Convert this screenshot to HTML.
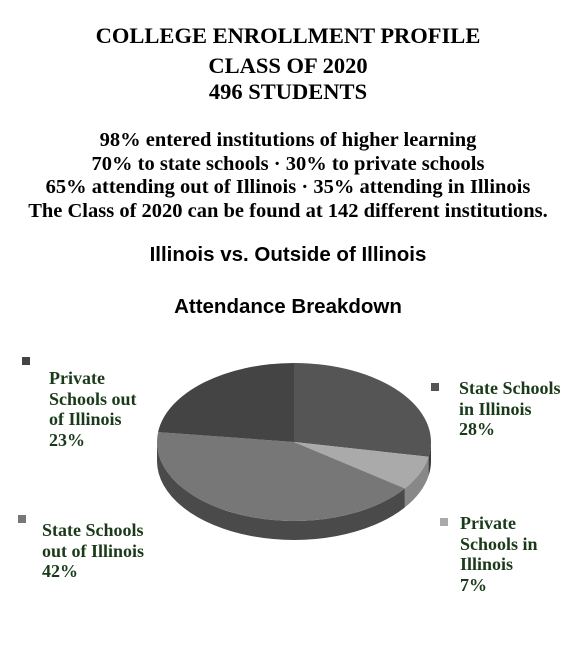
<!DOCTYPE html>
<html><head><meta charset="utf-8"><style>
body{margin:0;background:#fff;width:576px;height:645px;overflow:hidden;position:relative;font-family:"Liberation Serif",serif}
.t{position:absolute;left:0;width:576px;text-align:center;font-weight:bold;color:#000;white-space:nowrap}
.lab{position:absolute;font-family:"Liberation Serif",serif;font-weight:bold;color:#1a3a1a;font-size:18px;line-height:20.5px;white-space:nowrap}
.sw{position:absolute;width:8px;height:8px}
</style></head><body>
<div class="t" style="top:23px;font-size:22.5px">COLLEGE ENROLLMENT PROFILE</div>
<div class="t" style="top:53px;font-size:22.5px">CLASS OF 2020</div>
<div class="t" style="top:79px;font-size:22.5px">496 STUDENTS</div>
<div class="t" style="top:129px;font-size:20.5px;line-height:23.5px">98% entered institutions of higher learning<br>70% to state schools · 30% to private schools<br>65% attending out of Illinois · 35% attending in Illinois<br>The Class of 2020 can be found at 142 different institutions.</div>
<div class="t" style="top:243px;font-size:20.5px;font-family:'Liberation Sans',sans-serif">Illinois vs. Outside of Illinois</div>
<div class="t" style="top:295px;font-size:20.5px;font-family:'Liberation Sans',sans-serif">Attendance Breakdown</div>
<svg id="pie" width="576" height="645" style="position:absolute;left:0;top:0"></svg>
<div class="sw" style="left:22px;top:357px;background:#444"></div>
<div class="lab" style="left:49px;top:368px">Private<br>Schools out<br>of Illinois<br>23%</div>
<div class="sw" style="left:431px;top:383px;background:#555"></div>
<div class="lab" style="left:459px;top:378px">State Schools<br>in Illinois<br>28%</div>
<div class="sw" style="left:18px;top:515px;background:#777"></div>
<div class="lab" style="left:42px;top:520px">State Schools<br>out of Illinois<br>42%</div>
<div class="sw" style="left:440px;top:518px;background:#aaa"></div>
<div class="lab" style="left:460px;top:513px">Private<br>Schools in<br>Illinois<br>7%</div>
<script>
const categories=["State Schools in Illinois","Private Schools in Illinois","State Schools out of Illinois","Private Schools out of Illinois"];
const values=[28,7,42,23];
const colors=["#555555","#aaaaaa","#777777","#444444"];
const sideColors=["#3a3a3a","#888888","#4a4a4a","#2e2e2e"];
const svg=document.getElementById('pie');const NS="http://www.w3.org/2000/svg";
const cx=294,cy=442,rx=137,ry=79,depth=19;
const pt=(a,dy)=>[cx+rx*Math.sin(a),cy-ry*Math.cos(a)+(dy||0)];
const total=values.reduce((a,b)=>a+b,0);
let acc=0;const angs=values.map(v=>{const s=acc/total*2*Math.PI;acc+=v;return [s,acc/total*2*Math.PI];});
angs.forEach(([s,e],i)=>{
  const a0=Math.max(s,Math.PI/2),a1=Math.min(e,1.5*Math.PI);
  if(a1<=a0)return;
  const p0=pt(a0),p1=pt(a1),q1=pt(a1,depth),q0=pt(a0,depth);
  const p=document.createElementNS(NS,'path');
  p.setAttribute('d',`M${p0}A${rx} ${ry} 0 0 1 ${p1}L${q1}A${rx} ${ry} 0 0 0 ${q0}Z`);
  p.setAttribute('fill',sideColors[i]);
  
  
  svg.appendChild(p);
});
angs.forEach(([s,e],i)=>{
  const p0=pt(s),p1=pt(e),large=(e-s)>Math.PI?1:0;
  const p=document.createElementNS(NS,'path');
  p.setAttribute('d',`M${cx},${cy}L${p0}A${rx} ${ry} 0 ${large} 1 ${p1}Z`);
  p.setAttribute('fill',colors[i]);
  
  
  svg.appendChild(p);
});
</script>
</body></html>
